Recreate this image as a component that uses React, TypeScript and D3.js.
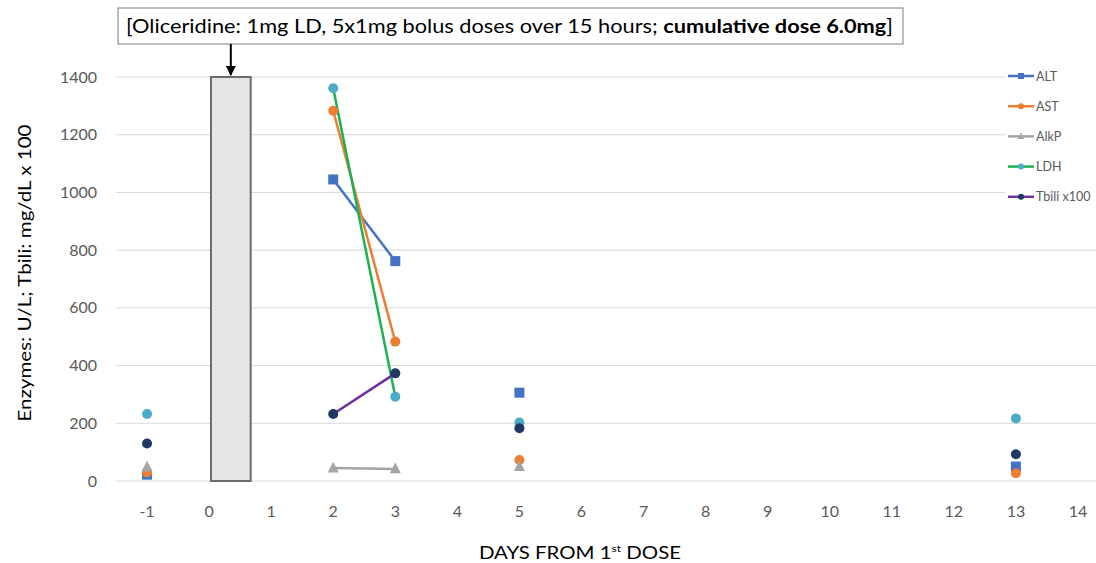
import React from "react";
import * as d3 from "d3";

const days = [-1, 0, 1, 2, 3, 4, 5, 6, 7, 8, 9, 10, 11, 12, 13, 14];
const tickLabels = days.map(String);
const yTicks = [0, 200, 400, 600, 800, 1000, 1200, 1400];

const altValues = [22, null, null, 1045, 762, null, 306, null, null, null, null, null, null, null, 50, null];
const astValues = [30, null, null, 1283, 483, null, 73, null, null, null, null, null, null, null, 27, null];
const alkpValues = [48, null, null, 45, 42, null, 50, null, null, null, null, null, null, null, null, null];
const ldhValues = [232, null, null, 1361, 292, null, 203, null, null, null, null, null, null, null, 217, null];
const tbiliValues = [130, null, null, 232, 373, null, 183, null, null, null, null, null, null, null, 93, null];

const seriesNames = ["ALT", "AST", "AlkP", "LDH", "Tbili x100"];
const doseBar = { start: 0.03, end: 0.67, top: 1400 };

const series = [
  { name: seriesNames[0], values: altValues, line: "#4472C4", marker: "#4472C4", shape: "square" },
  { name: seriesNames[1], values: astValues, line: "#ED7D31", marker: "#ED7D31", shape: "circle" },
  { name: seriesNames[2], values: alkpValues, line: "#A5A5A5", marker: "#A5A5A5", shape: "triangle" },
  { name: seriesNames[3], values: ldhValues, line: "#1DB154", marker: "#4BACC6", shape: "circle" },
  { name: seriesNames[4], values: tbiliValues, line: "#7030A0", marker: "#203864", shape: "circle" },
];

const FONT = "Lato, 'Open Sans', sans-serif";

function Marker({ shape, x, y, color, size }: any) {
  if (shape === "square") {
    return <rect x={x - size / 2} y={y - size / 2} width={size} height={size} fill={color} />;
  }
  if (shape === "triangle") {
    const s = size * 1.1;
    const p = `${x},${y - s * 0.6} ${x - s / 2},${y + s * 0.4} ${x + s / 2},${y + s * 0.4}`;
    return <polygon points={p} fill={color} />;
  }
  return <circle cx={x} cy={y} r={size / 2} fill={color} />;
}

export default function App() {
  const W = 1096, H = 563;
  const x = d3.scaleLinear().domain([-1.5, 14.5]).range([116, 1109]);
  const y = d3.scaleLinear().domain([0, 1400]).range([481, 77]);

  const arrowX = x((doseBar.start + doseBar.end) / 2);

  return (
    <svg width={W} height={H} style={{ position: "absolute", left: 0, top: 0, background: "#fff" }}>
      <defs>
        <marker id="arr" viewBox="0 0 10 10" refX="9" refY="5" markerWidth="5" markerHeight="5" orient="auto">
          <path d="M0,0 L10,5 L0,10 z" fill="#000" />
        </marker>
      </defs>
      <rect width={W} height={H} fill="#fff" />
      {yTicks.map((t) => (
        <line key={t} x1={116} x2={W} y1={y(t)} y2={y(t)} stroke="#D9D9D9" strokeWidth={1} />
      ))}
      {yTicks.map((t) => (
        <text key={"l" + t} x={97} y={y(t) + 5.5} textAnchor="end" fontFamily={FONT} fontSize={16} fill="#595959">
          {t}
        </text>
      ))}
      {days.map((d, i) => (
        <text key={"x" + d} x={x(d)} y={517} textAnchor="middle" fontFamily={FONT} fontSize={16} fill="#595959">
          {tickLabels[i]}
        </text>
      ))}
      <text x={479} y={559} textLength={202} lengthAdjust="spacingAndGlyphs" fontFamily={FONT} fontSize={17} fill="#000">
        DAYS FROM 1<tspan fontSize={10} dy={-7}>st</tspan>
        <tspan dy={7}> DOSE</tspan>
      </text>
      <text
        transform={`translate(31,${273}) rotate(-90)`}
        textAnchor="middle"
        textLength={297}
        lengthAdjust="spacingAndGlyphs"
        fontFamily={FONT}
        fontSize={17.5}
        fill="#000"
      >
        Enzymes: U/L; Tbili: mg/dL x 100
      </text>
      <rect
        x={x(doseBar.start)}
        y={y(doseBar.top)}
        width={x(doseBar.end) - x(doseBar.start)}
        height={y(0) - y(doseBar.top)}
        fill="#E5E5E5"
        stroke="#6b6b6b"
        strokeWidth={2}
      />
      <rect x={118} y={8} width={785} height={36} fill="#fff" stroke="#7f7f7f" strokeWidth={1} />
      <text x={126} y={33} textLength={767} lengthAdjust="spacingAndGlyphs" fontFamily={FONT} fontSize={19} fill="#000">
        [Oliceridine: 1mg LD, 5x1mg bolus doses over 15 hours; <tspan fontWeight="bold">cumulative dose 6.0mg</tspan>]
      </text>
      <line x1={arrowX} x2={arrowX} y1={44} y2={75} stroke="#000" strokeWidth={2} markerEnd="url(#arr)" />
      {series.map((s) => {
        const line = d3
          .line<any>()
          .defined((v: any) => v != null)
          .x((_: any, i: number) => x(days[i]))
          .y((v: any) => y(v));
        return <path key={"p" + s.name} d={line(s.values as any) || ""} fill="none" stroke={s.line} strokeWidth={2.5} />;
      })}
      {series.map((s) =>
        s.values.map((v, i) =>
          v == null ? null : (
            <Marker key={s.name + i} shape={s.shape} x={x(days[i])} y={y(v)} color={s.marker} size={10} />
          )
        )
      )}
      <rect x={1005} y={64} width={91} height={146} fill="#fff" />
      {series.map((s, i) => {
        const ly = 76 + i * 30.2;
        return (
          <g key={"lg" + s.name}>
            <line x1={1008} x2={1034} y1={ly} y2={ly} stroke={s.line} strokeWidth={2.5} />
            <Marker shape={s.shape} x={1021} y={ly} color={s.marker} size={6} />
            <text x={1036} y={ly + 4.5} fontFamily={FONT} fontSize={12.5} fill="#595959">
              {s.name}
            </text>
          </g>
        );
      })}
    </svg>
  );
}
